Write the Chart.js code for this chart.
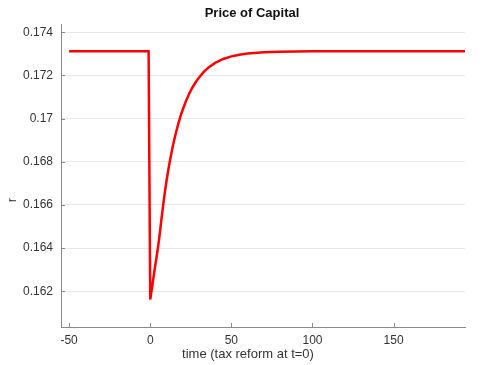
<!DOCTYPE html>
<html>
<head>
<meta charset="utf-8">
<script src="https://cdn.jsdelivr.net/npm/chart.js@4.4.1/dist/chart.umd.min.js"></script>
<style>
  html, body { margin: 0; padding: 0; background: #ffffff; }
  #wrap { width: 482px; height: 365px; position: relative; }
</style>
</head>
<body>
<div id="wrap"><canvas id="c" width="482" height="365"></canvas></div>
<script>
// Periods relative to the tax reform (t = 0) and the rental price of capital r
const periods = [-50, -1, 0, 1, 2, 3, 4, 5, 6, 7, 8, 9, 10, 11, 12, 13, 14, 15, 16, 17, 18, 19, 20,
                 22, 24, 26, 28, 30, 33, 36, 40, 45, 50, 55, 60, 70, 80, 90, 100, 194];
const priceOfCapital = [0.17312, 0.17312, 0.16162, 0.16212, 0.16264, 0.16316, 0.16364, 0.16415,
                        0.16475, 0.16540, 0.16600, 0.16658, 0.16710, 0.16756, 0.16799, 0.16838,
                        0.16875, 0.16908, 0.16939, 0.16968, 0.16994, 0.17019, 0.17041,
                        0.17081, 0.17115, 0.17144, 0.17168, 0.17189, 0.17216, 0.17237, 0.17258,
                        0.17276, 0.17288, 0.17296, 0.17301, 0.17307, 0.17310, 0.17311, 0.17312, 0.17312];
const xTickValues = [-50, 0, 50, 100, 150];
const yTickValues = [0.162, 0.164, 0.166, 0.168, 0.17, 0.172, 0.174];

const chartTitle = 'Price of Capital';
const xAxisLabel = 'time (tax reform at t=0)';
const yAxisLabel = 'r';

const AXIS_COLOR = '#8a8a8a';
const TEXT_COLOR = '#333333';
const FONT = '"Liberation Sans", Arial, Helvetica, sans-serif';

// Short tick marks pointing into the plot area, plus the title and axis labels
const annotate = {
  id: 'annotate',
  afterDraw(chart) {
    const { ctx, chartArea, scales } = chart;
    ctx.save();
    ctx.strokeStyle = AXIS_COLOR;
    ctx.lineWidth = 1;
    ctx.beginPath();
    xTickValues.forEach(v => {
      const px = Math.round(scales.x.getPixelForValue(v)) + 0.5;
      ctx.moveTo(px, chartArea.bottom);
      ctx.lineTo(px, chartArea.bottom - 4);
    });
    yTickValues.forEach(v => {
      const py = Math.round(scales.y.getPixelForValue(v)) + 0.5;
      ctx.moveTo(chartArea.left, py);
      ctx.lineTo(chartArea.left + 4, py);
    });
    ctx.stroke();

    ctx.fillStyle = '#111111';
    ctx.textAlign = 'center';
    ctx.textBaseline = 'middle';
    ctx.font = 'bold 13px ' + FONT;
    ctx.fillText(chartTitle, 252, 13);

    ctx.fillStyle = TEXT_COLOR;
    ctx.font = '13px ' + FONT;
    ctx.fillText(xAxisLabel, 248, 354);

    ctx.translate(12, 200);
    ctx.rotate(-Math.PI / 2);
    ctx.fillText(yAxisLabel, 0, 0);
    ctx.restore();
  }
};

new Chart(document.getElementById('c'), {
  type: 'line',
  data: {
    datasets: [{
      data: periods.map((t, i) => ({ x: t, y: priceOfCapital[i] })),
      borderColor: '#ff0000',
      borderWidth: 2.5,
      pointRadius: 0,
      tension: 0,
      fill: false
    }]
  },
  options: {
    responsive: false,
    animation: false,
    layout: { padding: { top: 24, right: 17, left: 0, bottom: 0 } },
    plugins: { legend: { display: false }, title: { display: false }, tooltip: { enabled: false } },
    scales: {
      x: {
        type: 'linear',
        min: -55,
        max: 194,
        afterFit(scale) { scale.height = 38; },
        afterBuildTicks(scale) { scale.ticks = xTickValues.map(v => ({ value: v })); },
        grid: { color: 'rgba(0,0,0,0)', drawTicks: false },
        border: { display: true, color: AXIS_COLOR, width: 1 },
        ticks: {
          padding: 6,
          color: TEXT_COLOR,
          font: { family: FONT, size: 12 },
          maxRotation: 0,
          callback: v => String(v)
        }
      },
      y: {
        type: 'linear',
        min: 0.16035,
        max: 0.17438,
        afterFit(scale) { scale.width = 61; },
        afterBuildTicks(scale) { scale.ticks = yTickValues.map(v => ({ value: v })); },
        grid: { color: '#e8e8e8', drawTicks: false, lineWidth: 1 },
        border: { display: true, color: AXIS_COLOR, width: 1 },
        ticks: {
          padding: 8,
          color: TEXT_COLOR,
          font: { family: FONT, size: 12 },
          callback: v => String(+v.toFixed(3))
        }
      }
    }
  },
  plugins: [annotate]
});
</script>
</body>
</html>
